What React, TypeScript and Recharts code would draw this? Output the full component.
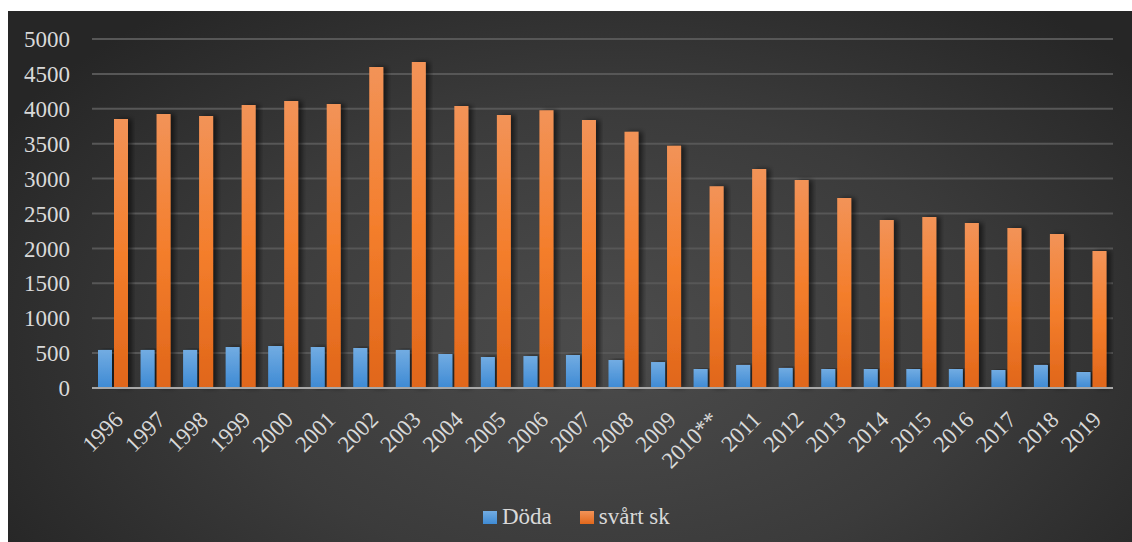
import { BarChart, Bar, XAxis, YAxis, CartesianGrid, Legend } from 'recharts';

const years = [
  '1996', '1997', '1998', '1999', '2000', '2001', '2002', '2003', '2004', '2005', '2006', '2007',
  '2008', '2009', '2010**', '2011', '2012', '2013', '2014', '2015', '2016', '2017', '2018', '2019',
];
const doda = [545, 545, 545, 587, 602, 587, 573, 545, 487, 444, 458, 473, 401, 372, 272, 330, 287, 272, 272, 272, 272, 258, 330, 229];
const svartSk = [3854, 3926, 3897, 4055, 4112, 4069, 4599, 4670, 4040, 3910, 3980, 3840, 3670, 3470, 2890, 3138, 2980, 2722, 2407, 2450, 2364, 2292, 2206, 1963];
const yTicks = [0, 500, 1000, 1500, 2000, 2500, 3000, 3500, 4000, 4500, 5000];

const data = years.map((year, i) => ({ year, doda: doda[i], svart: svartSk[i] }));

const FONT = 'Liberation Serif, DejaVu Serif, serif';
const TEXT = '#d9d9d9';

function YearTick(props: any) {
  const { x, y, payload } = props;
  const tx = x + 11;
  const ty = y + 25;
  return (
    <text
      x={tx}
      y={ty}
      textAnchor="end"
      fill={TEXT}
      style={{ fontFamily: FONT, fontSize: 23 }}
      transform={`rotate(-45, ${tx}, ${ty})`}
    >
      {payload.value}
    </text>
  );
}

function LegendContent() {
  const items = ['Döda', 'svårt sk'];
  return (
    <div style={{ display: 'flex', alignItems: 'center', fontFamily: FONT, fontSize: 23, color: TEXT, lineHeight: '26px' }}>
      {items.map((label, i) => (
        <div key={label} style={{ display: 'flex', alignItems: 'center', marginRight: i === 0 ? 28 : 0 }}>
          <span
            style={{
              display: 'inline-block',
              width: 14,
              height: 13,
              marginRight: 5,
              background: i === 0 ? 'linear-gradient(#72ace2, #3f8bd4)' : 'linear-gradient(#f29358, #e2681c)',
            }}
          />
          <span>{label}</span>
        </div>
      ))}
    </div>
  );
}

export default function App() {
  return (
    <div
      style={{
        position: 'absolute',
        left: 8,
        top: 11,
        width: 1124,
        height: 531,
        background: 'radial-gradient(ellipse 62% 80% at 53% 62%, #4c4c4c 0%, #3b3b3b 55%, #262626 100%)',
      }}
    >
      <BarChart
        width={1124}
        height={531}
        data={data}
        margin={{ top: 28, right: 19, left: 0, bottom: 0 }}
        barSize={14}
        barGap={2}
      >
        <defs>
          <linearGradient id="gBlue" x1="0" y1="0" x2="0" y2="1">
            <stop offset="0%" stopColor="#72ace2" />
            <stop offset="100%" stopColor="#3e8ad4" />
          </linearGradient>
          <linearGradient id="gOrange" x1="0" y1="0" x2="0" y2="1">
            <stop offset="0%" stopColor="#f29358" />
            <stop offset="50%" stopColor="#f47e2c" />
            <stop offset="100%" stopColor="#e0661a" />
          </linearGradient>
          <filter id="shadow" x="-50%" y="-5%" width="200%" height="110%">
            <feDropShadow dx="4" dy="0" stdDeviation="2.5" floodColor="#000" floodOpacity="0.55" />
          </filter>
        </defs>
        <CartesianGrid vertical={false} stroke="#575757" strokeWidth={2} />
        <XAxis
          dataKey="year"
          interval={0}
          height={154}
          tickLine={false}
          axisLine={{ stroke: '#a8a8a8', strokeWidth: 2 }}
          tick={<YearTick />}
        />
        <YAxis
          width={84}
          domain={[0, 5000]}
          ticks={yTicks}
          axisLine={false}
          tickLine={false}
          tickSize={0}
          tickMargin={22}
          tick={{ fill: TEXT, style: { fontFamily: FONT, fontSize: 23 } }}
        />
        <Legend
          verticalAlign="middle"
          align="center"
          layout="horizontal"
          wrapperStyle={{ top: 493, left: 475, width: 'auto' }}
          content={<LegendContent />}
        />
        <Bar dataKey="doda" name="Döda" fill="url(#gBlue)" filter="url(#shadow)" isAnimationActive={false} />
        <Bar dataKey="svart" name="svårt sk" fill="url(#gOrange)" filter="url(#shadow)" isAnimationActive={false} />
      </BarChart>
    </div>
  );
}
